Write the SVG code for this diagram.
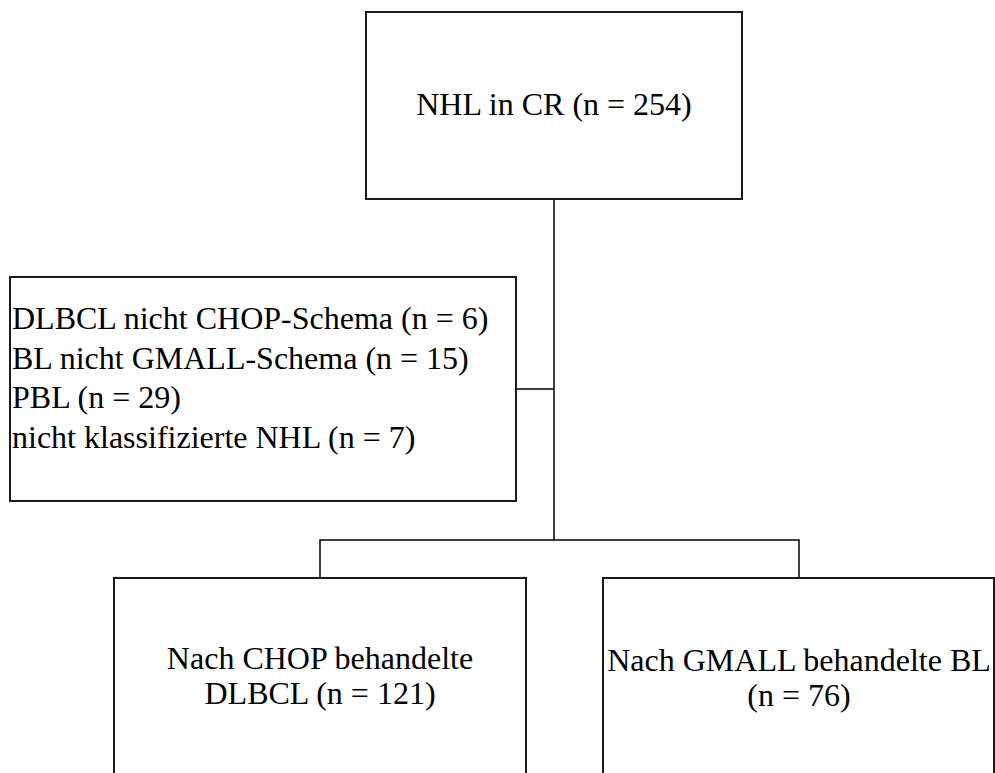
<svg xmlns="http://www.w3.org/2000/svg" width="995" height="773" viewBox="0 0 995 773">
<style>
.box{fill:#fff;stroke:#1a1a1a;stroke-width:2}
.c{fill:none;stroke:#000;stroke-width:1.5}
</style>
<rect width="995" height="773" fill="#fff"/>
<g id="connectors">
<path class="c" d="M554 199 V540"/>
<path class="c" d="M516 389 H554"/>
<path class="c" d="M320 578 V540 H799 V578"/>
</g>
<g id="top">
<rect class="box" x="366" y="12" width="376" height="187"/>
<text font-size="32" font-family="Liberation Serif" x="554" y="115" text-anchor="middle">NHL in CR (n = 254)</text>
</g>
<g id="excluded">
<rect class="box" x="10" y="277" width="506" height="224"/>
<text font-size="32" font-family="Liberation Serif" x="12" y="329">DLBCL nicht CHOP-Schema (n = 6)</text>
<text font-size="32" font-family="Liberation Serif" x="12" y="369">BL nicht GMALL-Schema (n = 15)</text>
<text font-size="32" font-family="Liberation Serif" x="12" y="408">PBL (n = 29)</text>
<text font-size="32" font-family="Liberation Serif" x="12" y="448">nicht klassifizierte NHL (n = 7)</text>
</g>
<g id="chop">
<rect class="box" x="114" y="578" width="412" height="220"/>
<text font-size="32" font-family="Liberation Serif" x="320" y="669" text-anchor="middle">Nach CHOP behandelte</text>
<text font-size="32" font-family="Liberation Serif" x="320" y="704" text-anchor="middle">DLBCL (n = 121)</text>
</g>
<g id="gmall">
<rect class="box" x="603" y="578" width="391" height="220"/>
<text font-size="32" font-family="Liberation Serif" x="799" y="671" text-anchor="middle">Nach GMALL behandelte BL</text>
<text font-size="32" font-family="Liberation Serif" x="799" y="706" text-anchor="middle">(n = 76)</text>
</g>
</svg>
